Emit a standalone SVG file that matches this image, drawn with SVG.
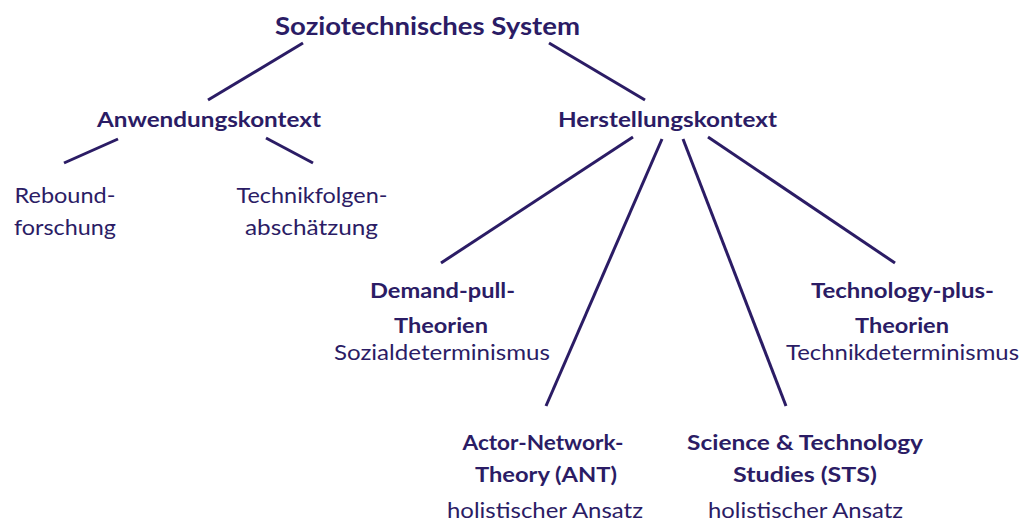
<svg xmlns="http://www.w3.org/2000/svg" width="1029" height="521" viewBox="0 0 1029 521">
<style>
text{fill:#2b1c65;font-family:Lato,"Liberation Sans",sans-serif;text-anchor:middle}
.t{font-weight:700;font-size:24.5px}
.h{font-weight:700;font-size:20.5px}
.b{font-weight:700;font-size:21.5px}
.r{font-weight:400;font-size:22px}
.c line{stroke:#2b1c65;stroke-width:3;stroke-linecap:butt}
</style>
<rect width="1029" height="521" fill="#fff"/>
<g id="connectors" class="c">
<line x1="303" y1="43" x2="208" y2="100"/>
<line x1="549" y1="43" x2="645" y2="100"/>
<line x1="118" y1="139" x2="64" y2="163"/>
<line x1="266" y1="138" x2="313" y2="163"/>
<line x1="633" y1="137" x2="441" y2="263"/>
<line x1="662" y1="139" x2="546" y2="406"/>
<line x1="683" y1="139" x2="786" y2="406"/>
<line x1="708" y1="137" x2="895" y2="263"/>
</g>
<g id="root"><text class="t" x="427.5" y="35" textLength="305" lengthAdjust="spacingAndGlyphs">Soziotechnisches System</text></g>
<g id="anwendung"><text class="h" x="209" y="127" textLength="224" lengthAdjust="spacingAndGlyphs">Anwendungskontext</text></g>
<g id="herstellung"><text class="h" x="667.5" y="127" textLength="219" lengthAdjust="spacingAndGlyphs">Herstellungskontext</text></g>
<g id="rebound">
<text class="r" x="65" y="203" textLength="101" lengthAdjust="spacingAndGlyphs">Rebound-</text>
<text class="r" x="65" y="235" textLength="102" lengthAdjust="spacingAndGlyphs">forschung</text>
</g>
<g id="technikfolgen">
<text class="r" x="312" y="203" textLength="151" lengthAdjust="spacingAndGlyphs">Technikfolgen-</text>
<text class="r" x="311.5" y="235" textLength="133" lengthAdjust="spacingAndGlyphs">abschätzung</text>
</g>
<g id="demandpull">
<text class="b" x="442.5" y="298" textLength="145" lengthAdjust="spacingAndGlyphs">Demand-pull-</text>
<text class="b" x="441" y="333" textLength="94" lengthAdjust="spacingAndGlyphs">Theorien</text>
<text class="r" x="442" y="360" textLength="216" lengthAdjust="spacingAndGlyphs">Sozialdeterminismus</text>
</g>
<g id="technologyplus">
<text class="b" x="902.5" y="298" textLength="183" lengthAdjust="spacingAndGlyphs">Technology-plus-</text>
<text class="b" x="902" y="333" textLength="94" lengthAdjust="spacingAndGlyphs">Theorien</text>
<text class="r" x="902.5" y="360" textLength="233" lengthAdjust="spacingAndGlyphs">Technikdeterminismus</text>
</g>
<g id="ant">
<text class="b" x="543" y="450" textLength="161" lengthAdjust="spacingAndGlyphs">Actor-Network-</text>
<text class="b" x="546" y="482" textLength="142" lengthAdjust="spacingAndGlyphs">Theory (ANT)</text>
<text class="r" x="545" y="518" textLength="196" lengthAdjust="spacingAndGlyphs">holistischer Ansatz</text>
</g>
<g id="sts">
<text class="b" x="805" y="450" textLength="236" lengthAdjust="spacingAndGlyphs">Science &amp; Technology</text>
<text class="b" x="805" y="482" textLength="144" lengthAdjust="spacingAndGlyphs">Studies (STS)</text>
<text class="r" x="805.5" y="518" textLength="195" lengthAdjust="spacingAndGlyphs">holistischer Ansatz</text>
</g>
</svg>
